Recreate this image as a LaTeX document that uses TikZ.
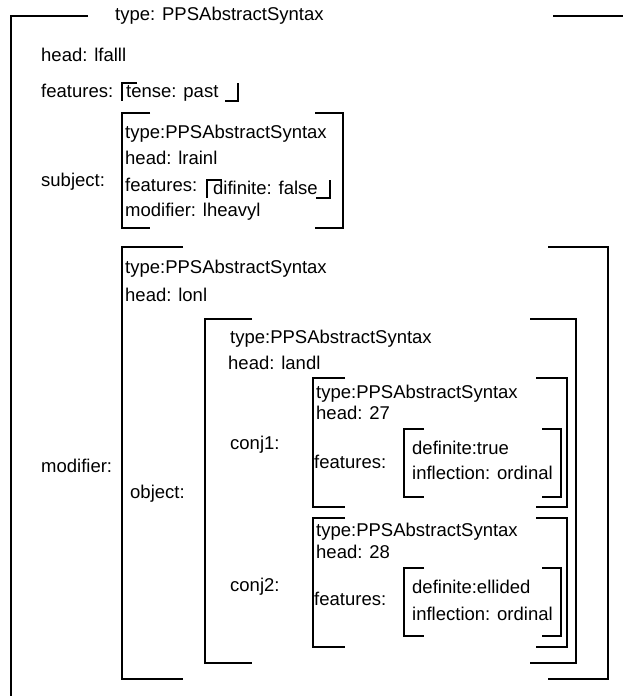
\documentclass[tikz,border=0pt]{standalone}
\usepackage{fontspec}
\setmainfont{Liberation Sans}
\newcommand\fsbr[6]{%
  \draw[br] ({#1+#5},#2) -- (#1,#2) -- (#1,#4) -- ({#1+#5},#4);
  \draw[br] ({#3-#6},#2) -- (#3,#2) -- (#3,#4) -- ({#3-#6},#4);}
\begin{document}
\begin{tikzpicture}[x=1pt,y=-1pt,
  br/.style={line width=1.2pt,line cap=butt,line join=miter},
  lbl/.style={anchor=west,inner sep=0pt,text height=13.2pt,text depth=0pt,
    font=\fontsize{18.5}{22}\selectfont}]
\useasboundingbox (0,0) rectangle (623,696);
% outer structure
\draw[br] (88,16) -- (11,16) -- (11,700);
\draw[br] (553,16) -- (625,16);
\node[lbl] (title) at (115,14) {type: PPSAbstractSyntax};
\node[lbl] (headfall) at (41,55) {head: lfalll};
\node[lbl] (feat) at (41,91) {features:};
\draw[br] (137,83) -- (122,83) -- (122,101);
\draw[br] (238,83) -- (238,101) -- (225,101);
\node[lbl] (tense) at (126,91) {tense: past};
% subject
\node[lbl] (subj) at (41,180) {subject:};
\fsbr{122}{113}{343}{228}{28}{28}
\node[lbl] (stype) at (125,132) {type:PPSAbstractSyntax};
\node[lbl] (shead) at (125,158) {head: lrainl};
\node[lbl] (sfeat) at (125,185) {features:};
\draw[br] (222,180) -- (207,180) -- (207,198);
\draw[br] (330,180) -- (330,198) -- (316,198);
\node[lbl] (sdef) at (213,188) {difinite: false};
\node[lbl] (smod) at (125,210) {modifier: lheavyl};
% modifier
\node[lbl] (mod) at (41,466) {modifier:};
\fsbr{122}{247}{608}{679}{61}{60}
\node[lbl] (mtype) at (125,267) {type:PPSAbstractSyntax};
\node[lbl] (mhead) at (125,295) {head: lonl};
\node[lbl] (obj) at (130,492) {object:};
% object
\fsbr{205}{319}{576}{663}{47}{46}
\node[lbl] (otype) at (230,337) {type:PPSAbstractSyntax};
\node[lbl] (ohead) at (228,363) {head: landl};
\node[lbl] (c1) at (230,443) {conj1:};
\node[lbl] (c2) at (230,585) {conj2:};
% conj1
\fsbr{313}{378}{567}{507}{32}{31}
\node[lbl] (c1type) at (316,392) {type:PPSAbstractSyntax};
\node[lbl] (c1head) at (316,413) {head: 27};
\node[lbl] (c1feat) at (314,462) {features:};
\fsbr{404}{429}{561}{497}{20}{19}
\node[lbl] (c1def) at (412,448) {definite:true};
\node[lbl] (c1inf) at (412,473) {inflection: ordinal};
% conj2
\fsbr{313}{518}{567}{647}{32}{31}
\node[lbl] (c2type) at (316,530) {type:PPSAbstractSyntax};
\node[lbl] (c2head) at (316,552) {head: 28};
\node[lbl] (c2feat) at (314,599) {features:};
\fsbr{404}{568}{561}{636}{20}{19}
\node[lbl] (c2def) at (412,587) {definite:ellided};
\node[lbl] (c2inf) at (412,614) {inflection: ordinal};
\end{tikzpicture}
\end{document}
